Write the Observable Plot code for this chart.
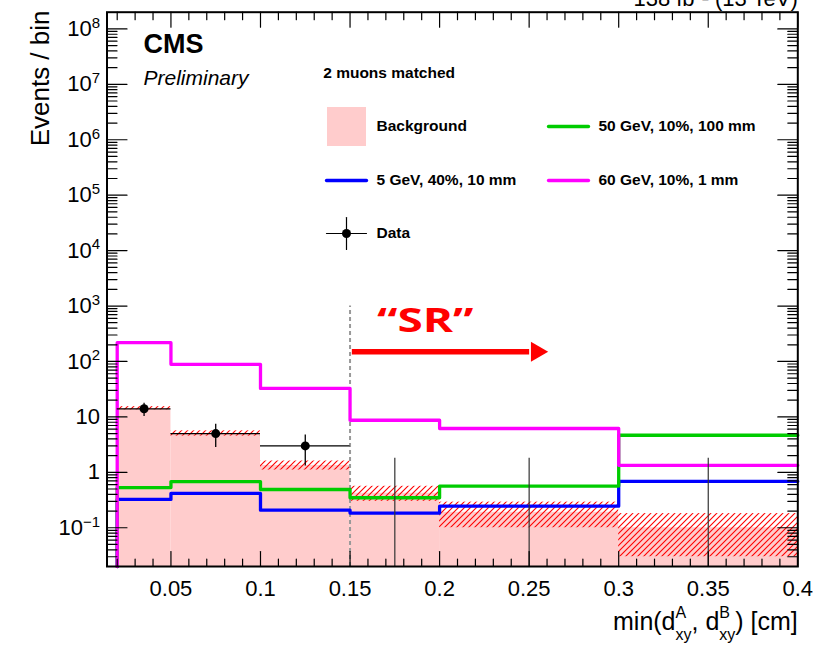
<!DOCTYPE html>
<html><head><meta charset="utf-8">
<script src="https://cdn.jsdelivr.net/npm/d3@7"></script>
<script src="https://cdn.jsdelivr.net/npm/@observablehq/plot@0.6"></script>
<style>
html,body{margin:0;padding:0;background:#fff;}
#chart{width:820px;height:647px;overflow:hidden;}
</style></head><body><div id="chart"></div>
<script>
// ---------------- data ----------------
const binEdges   = [0.02, 0.05, 0.1, 0.15, 0.2, 0.3, 0.4];
const background = [14.2, 5.0, 1.33, 0.42, 0.19, 0.10];
const bkgBandLow = [13.4, 4.5, 1.10, 0.30, 0.10, 0.03];
const bkgBandHigh= [15.3, 5.6, 1.60, 0.56, 0.29, 0.18];
const sig5GeV    = [0.325, 0.417, 0.208, 0.184, 0.245, 0.687];
const sig50GeV   = [0.53, 0.68, 0.49, 0.348, 0.565, 4.67];
const sig60GeV   = [218, 88.7, 32.6, 8.7, 6.17, 1.34];
const dataCounts = [14, 5, 3, 0, 0, 0];
const dataErrLow = [10.2, 2.8, 1.3, 0, 0, 0];
const dataErrHigh= [17.6, 7.4, 4.7, 1.8, 1.8, 1.8];
const xTickValues = [0.05, 0.1, 0.15, 0.2, 0.25, 0.3, 0.35, 0.4];
const xTickLabels = ["0.05", "0.1", "0.15", "0.2", "0.25", "0.3", "0.35", "0.4"];
const yTickValues = [0.1, 1, 10, 100, 1e3, 1e4, 1e5, 1e6, 1e7, 1e8];
const yTickLabels = ["10^\u22121", "1", "10", "10^2", "10^3", "10^4", "10^5", "10^6", "10^7", "10^8"];
const signalNames = ["5 GeV, 40%, 10 mm", "50 GeV, 10%, 100 mm", "60 GeV, 10%, 1 mm"];
const srBoundary = [0.15];
const srLineTop = 1000;
const srArrow = [{x1: 0.151, x2: 0.25, y: 150}];
const srHead = [{x: 0.2542, y: 150}];
const srLabel = [{x: 0.192, y: 335, text: "\u201cSR\u201d"}];
const xTitlePlain = "min(d, d) [cm]";

// ---------------- styles / layout ----------------
const xDomain = [0.0143, 0.4];
const yDomain = [0.02, 2e8];
const yMin = yDomain[0];
const colors = {bkg: "#ffcccc", hatch: "#ff0000", blue: "#0000ff", green: "#00cc00", magenta: "#ff00ff"};
const font = '"Liberation Sans", Arimo, Helvetica, Arial, sans-serif';

const bins = background.map((b, i) => ({
  x1: binEdges[i], x2: binEdges[i + 1], xc: (binEdges[i] + binEdges[i + 1]) / 2,
  bkg: b, lo: bkgBandLow[i], hi: bkgBandHigh[i],
  n: dataCounts[i], nlo: dataErrLow[i] > 0 ? dataErrLow[i] : yMin, nhi: dataErrHigh[i]
}));
function steps(values) {
  const pts = [{x: binEdges[0], y: yMin}];
  values.forEach((v, i) => pts.push({x: binEdges[i], y: v}));
  pts.push({x: binEdges[binEdges.length - 1], y: values[values.length - 1]});
  return pts;
}
const signals = [
  {name: signalNames[0], color: colors.blue, pts: steps(sig5GeV)},
  {name: signalNames[1], color: colors.green, pts: steps(sig50GeV)},
  {name: signalNames[2], color: colors.magenta, pts: steps(sig60GeV)}
];

// minor ticks
const xMinor = d3.range(2, 40).map(i => i / 100).filter(v => !xTickValues.some(t => Math.abs(t - v) < 1e-9));
const yMinor = [];
for (let e = -2; e <= 8; e++) for (let m = 2; m <= 9; m++) {
  const v = m * Math.pow(10, e);
  if (v > yDomain[0] * 1.001 && v < yDomain[1] * 0.999) yMinor.push(v);
}
const tickShape = {draw(ctx, l) { ctx.moveTo(0, 0); ctx.lineTo(0, -l); }};
function tickMarks(values, ch, frameAnchor, rotate, length) {
  return Plot.vector(values, {[ch]: d => d, frameAnchor, rotate, length, anchor: "start",
    shape: tickShape, stroke: "black", strokeWidth: 1.2});
}

// legend layout (pixel offsets from the frame's top-left corner)
const legendItems = [
  {label: "Background", kind: "box", color: colors.bkg, col: 0, row: 0},
  {label: signalNames[1], kind: "line", color: colors.green, col: 1, row: 0},
  {label: signalNames[0], kind: "line", color: colors.blue, col: 0, row: 1},
  {label: signalNames[2], kind: "line", color: colors.magenta, col: 1, row: 1},
  {label: "Data", kind: "data", color: "black", col: 0, row: 2}
];
const legColX = [219.5, 441.5], legRowY = [114.3, 168.3, 221.3], legW = 40, legTextGap = 50;
const legendMarks = [];
legendMarks.push(Plot.text(["2 muons matched"], {text: d => d, frameAnchor: "top-left", dx: 216.2, dy: 61,
  textAnchor: "start", lineAnchor: "middle", fontSize: 15.5, fontWeight: "bold", fill: "black"}));
for (const it of legendItems) {
  const x0 = legColX[it.col], y0 = legRowY[it.row];
  if (it.kind === "box") {
    legendMarks.push(Plot.dot([it], {frameAnchor: "top-left", dx: x0 + legW / 2, dy: y0, symbol: "square",
      r: 39 / Math.sqrt(Math.PI), fill: it.color, stroke: "none"}));
  } else if (it.kind === "line") {
    legendMarks.push(Plot.vector([it], {frameAnchor: "top-left", dx: x0, dy: y0, rotate: 90, length: legW,
      anchor: "start", shape: tickShape, stroke: it.color, strokeWidth: 3.3}));
  } else {
    legendMarks.push(Plot.vector([it], {frameAnchor: "top-left", dx: x0, dy: y0, rotate: 90, length: legW,
      anchor: "start", shape: tickShape, stroke: "black", strokeWidth: 1.2}));
    legendMarks.push(Plot.vector([it], {frameAnchor: "top-left", dx: x0 + legW / 2, dy: y0, rotate: 0, length: 32,
      anchor: "middle", shape: tickShape, stroke: "black", strokeWidth: 1.2}));
    legendMarks.push(Plot.dot([it], {frameAnchor: "top-left", dx: x0 + legW / 2, dy: y0, r: 4.5, fill: "black"}));
  }
  legendMarks.push(Plot.text([it], {text: d => d.label, frameAnchor: "top-left", dx: x0 + legTextGap, dy: y0,
    textAnchor: "start", lineAnchor: "middle", fontSize: 15.5, fontWeight: "bold", fill: "black"}));
}

const chart = Plot.plot({
  width: 820, height: 647,
  marginTop: 11.7, marginRight: 22.7, marginBottom: 81, marginLeft: 106.5,
  style: {fontFamily: font, fontSize: "22px", background: "white", color: "black"},
  x: {domain: xDomain, label: null},
  y: {type: "log", domain: yDomain, label: null},
  marks: [
    // background histogram and its uncertainty band
    Plot.rect(bins, {x1: "x1", x2: "x2", y1: yMin, y2: "bkg", fill: colors.bkg}),
    Plot.rect(bins, {x1: "x1", x2: "x2", y1: "lo", y2: "hi", fill: "url(#bkgHatch)"}),
    // SR boundary
    Plot.ruleX(srBoundary, {x: d => d, y1: yMin, y2: srLineTop, stroke: "#999", strokeWidth: 2, strokeDasharray: "4,3"}),
    // signal step lines
    ...signals.map(s => Plot.line(s.pts, {x: "x", y: "y", curve: "step-after", stroke: s.color, strokeWidth: 3.3})),
    // data
    Plot.ruleY(bins.filter(b => b.n > 0), {x1: "x1", x2: "x2", y: "n", stroke: "black", strokeWidth: 1.3}),
    Plot.ruleX(bins.filter(b => b.n > 0), {x: "xc", y1: "nlo", y2: "nhi", stroke: "black", strokeWidth: 1.3}),
    Plot.ruleX(bins.filter(b => b.n === 0), {x: "xc", y1: "nlo", y2: "nhi", stroke: "#333", strokeWidth: 1.2}),
    Plot.dot(bins.filter(b => b.n > 0), {x: "xc", y: "n", r: 4.5, fill: "black"}),
    // SR annotation
    Plot.link(srArrow, {x1: "x1", x2: "x2", y1: "y", y2: "y", stroke: "red", strokeWidth: 5.5}),
    Plot.dot(srHead, {x: "x", y: "y", symbol: "triangle", r: 7.4, rotate: 90, fill: "red", stroke: "none"}),
    Plot.text(srLabel, {x: "x", y: "y", text: "text", fill: "red", fontSize: 34, fontWeight: "bold",
      fontFamily: '"Open Sans", "Liberation Sans", sans-serif', lineAnchor: "bottom"}),
    // frame and ticks
    Plot.frame({stroke: "black", strokeWidth: 2}),
    tickMarks(xTickValues, "x", "bottom", 0, 15), tickMarks(xMinor, "x", "bottom", 0, 7.5),
    tickMarks(xTickValues, "x", "top", 180, 15), tickMarks(xMinor, "x", "top", 180, 7.5),
    tickMarks(yTickValues, "y", "left", 90, 20), tickMarks(yMinor, "y", "left", 90, 10),
    tickMarks(yTickValues, "y", "right", -90, 20), tickMarks(yMinor, "y", "right", -90, 10),
    Plot.axisX(xTickValues, {tickSize: 0, tickPadding: 14, fontSize: 22, label: null,
      tickFormat: d => xTickLabels[xTickValues.indexOf(d)]}),
    Plot.axisY(yTickValues, {tickSize: 0, tickPadding: 7, fontSize: 22, label: null,
      tickFormat: d => yTickLabels[yTickValues.indexOf(d)]}),
    // titles
    Plot.text(["Events / bin"], {text: d => d, frameAnchor: "top-left", dx: -58.5, dy: -1.7, rotate: -90,
      textAnchor: "end", lineAnchor: "bottom", fontSize: 26, fill: "black"}),
    Plot.text([xTitlePlain], {text: d => d, frameAnchor: "bottom-right", dx: 0, dy: 63,
      textAnchor: "end", lineAnchor: "bottom", fontSize: 25, fill: "black"}),
    Plot.text(["138 fb\u207b\u00b9 (13 TeV)"], {text: d => d, frameAnchor: "top-right", dx: 0, dy: -6.7,
      textAnchor: "end", lineAnchor: "bottom", fontSize: 22, fill: "black"}),
    Plot.text(["CMS"], {text: d => d, frameAnchor: "top-left", dx: 36.5, dy: 40.3,
      textAnchor: "start", lineAnchor: "bottom", fontSize: 27, fontWeight: "bold", fill: "black"}),
    Plot.text(["Preliminary"], {text: d => d, frameAnchor: "top-left", dx: 36.5, dy: 72.3,
      textAnchor: "start", lineAnchor: "bottom", fontSize: 21, fontStyle: "italic", fill: "black"}),
    ...legendMarks
  ]
});

// ---------------- post-processing: pattern, superscripts ----------------
const svg = d3.select(chart);
const pat = svg.insert("defs", ":first-child").append("pattern")
  .attr("id", "bkgHatch").attr("patternUnits", "userSpaceOnUse").attr("width", 6).attr("height", 6);
pat.append("path").attr("d", "M-1,1 l2,-2 M0,6 l6,-6 M5,7 l2,-2")
  .attr("stroke", colors.hatch).attr("stroke-width", 1.1).attr("fill", "none");

svg.selectAll('g[aria-label="y-axis tick label"] text').each(function () {
  const parts = this.textContent.split("^");
  if (parts.length !== 2) return;
  const t = d3.select(this); t.text(null);
  t.append("tspan").text(parts[0]);
  t.append("tspan").attr("dy", "-0.55em").attr("font-size", "15px").text(parts[1]);
});

svg.selectAll("text").each(function () {
  const content = this.textContent;
  if (content === xTitlePlain) {
    const t = d3.select(this); t.text(null);
    const sub = 16, wA = 0.667 * sub;
    t.append("tspan").text("min(d");
    t.append("tspan").attr("font-size", sub).attr("dy", -12).text("A");
    t.append("tspan").attr("font-size", sub).attr("dx", -wA).attr("dy", 22).text("xy");
    t.append("tspan").attr("dy", -10).text(", d");
    t.append("tspan").attr("font-size", sub).attr("dy", -12).text("B");
    t.append("tspan").attr("font-size", sub).attr("dx", -wA).attr("dy", 22).text("xy");
    t.append("tspan").attr("dy", -10).text(") [cm]");
  } else if (content === srLabel[0].text) {
    const tr = this.getAttribute("transform") || "";
    this.setAttribute("transform", tr + " scale(1.35,1)");
  }
});

document.getElementById("chart").appendChild(chart);
</script>
</body></html>
